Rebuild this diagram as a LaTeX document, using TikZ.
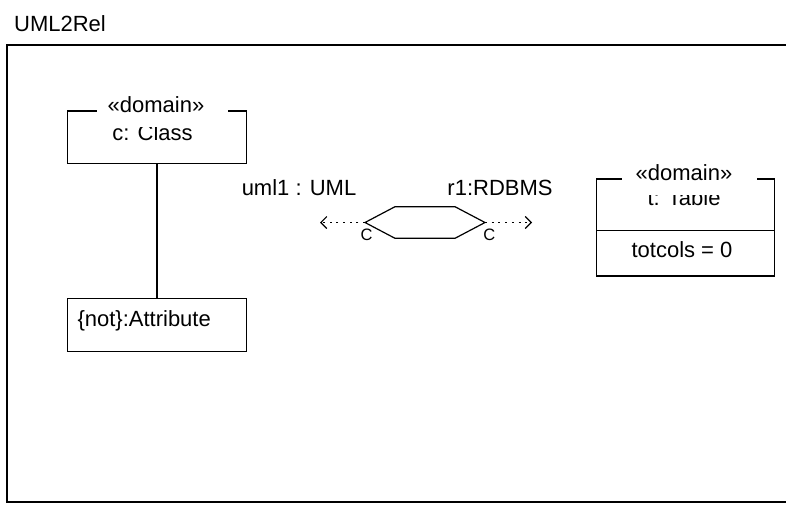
\documentclass[tikz,border=0pt]{standalone}
\usepackage{fontspec}
\setmainfont{Liberation Sans}
\usetikzlibrary{arrows.meta}
\begin{document}
\begin{tikzpicture}[x=1pt,y=-1pt,
  txt/.style={inner sep=0pt,font=\fontsize{22}{26}\selectfont},
  small/.style={inner sep=0pt,font=\fontsize{16.5}{19}\selectfont},
  boxline/.style={line width=1.2pt,draw=black},
  dotarrow/.style={line width=1.4pt,dash pattern=on 2pt off 4.7pt,-{Straight Barb[length=6pt,width=12pt,line width=1.1pt]}},
]
\useasboundingbox (0,0) rectangle (786,504);
\fill[white] (0,0) rectangle (786,504);
% title and frame
\node[txt,anchor=base] (title) at (60,31.7) {UML2Rel};
\draw[line width=1.3pt] (792,45) -- (7,45) -- (7,502) -- (792,502);

% class box
\node[txt,anchor=base] (clsname) at (152.5,140) {c: Class};
\node[boxline,rectangle,minimum width=179.6pt,minimum height=52.6pt,inner sep=0pt] (cls) at (157,137.2) {};
\fill[white] (96.7,90) rectangle (228,126.7);
\node[txt] (clsst) at (156,105) {«domain»};

% attribute box
\node[boxline,rectangle,minimum width=179.4pt,minimum height=53.4pt,inner sep=0pt] (attr) at (157,325) {};
\node[txt,anchor=base west] (attrname) at (77.3,326.7) {\{not\}:Attribute};
\draw[line width=1.2pt] (cls.south) -- (cls.south |- attr.north);

% table box
\node[txt,anchor=base] (tblname) at (684,205) {t: Table};
\node[boxline,rectangle,minimum width=177.6pt,minimum height=97pt,inner sep=0pt] (tbl) at (685.5,227.5) {};
\draw[line width=1.2pt] (tbl.west |- 0,230.7) coordinate (dl) -- (tbl.east |- 0,230.7) coordinate (dr);
\fill[white] (621.7,158) rectangle (756.7,195);
\node[txt] (tblst) at (684,173) {«domain»};
\node[txt,anchor=base] (tblattr) at (682,257.5) {totcols = 0};

% relation hexagon
\coordinate (hl) at (365,222.5);
\coordinate (hr) at (485,222.5);
\draw[line width=1.2pt] (hl) -- (395,206.7) -- (455,206.7) -- (hr) -- (455,238.3) -- (395,238.3) -- cycle;
\coordinate (lt) at (320,222.5);
\coordinate (rt) at (532,222.5);
\draw[dotarrow] (hl) -- (lt);
\draw[dotarrow] (hr) -- (rt);
\node[small,anchor=base] (cl) at (366.7,240) {C};
\node[small,anchor=base] (cr) at (489.3,240) {C};
\node[txt,anchor=base] (uml) at (299,195) {uml1 : UML};
\node[txt,anchor=base] (rdb) at (500,195) {r1:RDBMS};
\end{tikzpicture}
\end{document}
